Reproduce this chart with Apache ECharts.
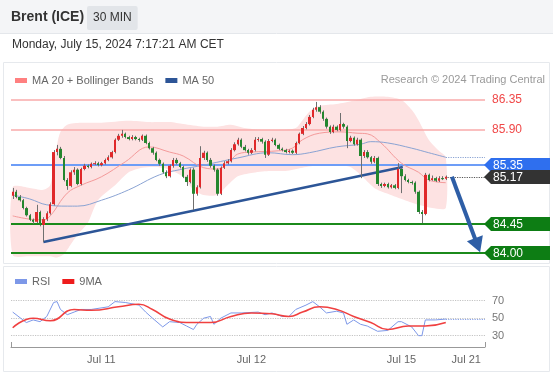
<!DOCTYPE html>
<html><head><meta charset="utf-8">
<script src="https://cdn.jsdelivr.net/npm/echarts@6/dist/echarts.min.js"></script>
<style>html,body{margin:0;padding:0;background:#fff}#c{width:553px;height:375px}</style>
</head><body><div id="c"></div>
<script>
// ---------- DATA ----------
const opens = [84.88,84.94,84.86,84.81,84.69,84.58,84.51,84.48,84.63,84.43,
84.52,84.61,84.75,85.55,85.60,85.46,85.12,85.03,85.24,85.28,
85.06,85.29,85.34,85.32,85.37,85.38,85.35,85.38,85.43,85.47,
85.55,85.74,85.80,85.83,85.78,85.75,85.78,85.75,85.74,85.80,
85.69,85.61,85.54,85.43,85.37,85.24,85.18,85.34,85.43,85.38,
85.32,85.17,85.09,85.28,84.91,85.01,85.46,85.54,85.43,85.34,
85.28,84.91,85.31,85.38,85.41,85.58,85.67,85.74,85.63,85.58,
85.54,85.58,85.74,85.75,85.71,85.51,85.72,85.74,85.66,85.60,
85.58,85.55,85.57,85.54,85.69,85.83,85.92,85.98,86.09,86.20,
86.24,86.17,86.06,85.94,85.86,85.94,85.89,85.98,85.94,85.72,
85.77,85.67,85.74,85.49,85.55,85.47,85.40,85.46,85.06,85.03,
85.06,85.01,85.04,85.00,85.29,85.18,85.12,85.09,85.08,84.94,
84.63,84.60,85.20,85.12,85.15,85.11,85.15,85.14];
const closes = [84.94,84.86,84.81,84.69,84.58,84.51,84.48,84.63,84.43,84.52,
84.61,84.75,85.55,85.60,85.46,85.12,85.03,85.24,85.28,85.06,
85.29,85.34,85.32,85.37,85.38,85.35,85.38,85.43,85.47,85.55,
85.74,85.80,85.83,85.78,85.75,85.78,85.75,85.74,85.80,85.69,
85.61,85.54,85.43,85.37,85.24,85.18,85.34,85.43,85.38,85.32,
85.17,85.09,85.28,84.91,85.01,85.46,85.54,85.43,85.34,85.28,
84.91,85.31,85.38,85.41,85.58,85.67,85.74,85.63,85.58,85.54,
85.58,85.74,85.75,85.71,85.51,85.72,85.74,85.66,85.60,85.58,
85.55,85.57,85.54,85.69,85.83,85.92,85.98,86.09,86.20,86.24,
86.17,86.06,85.94,85.86,85.94,85.89,85.98,85.94,85.72,85.77,
85.67,85.74,85.49,85.55,85.47,85.40,85.46,85.06,85.03,85.06,
85.01,85.04,85.00,85.29,85.18,85.12,85.09,85.08,84.94,84.63,
84.60,85.20,85.12,85.15,85.11,85.15,85.14,85.17];
const lows = [84.83,84.84,84.79,84.67,84.56,84.49,84.45,84.46,84.41,84.17,
84.49,84.59,84.73,85.50,85.44,85.10,84.97,85.01,85.20,85.04,
85.04,85.27,85.30,85.30,85.35,85.33,85.33,85.36,85.41,85.45,
85.53,85.72,85.77,85.76,85.73,85.73,85.73,85.71,85.72,85.67,
85.59,85.51,85.41,85.34,85.22,85.15,85.16,85.31,85.36,85.30,
85.15,85.03,85.07,84.66,84.88,84.99,85.43,85.40,85.31,85.25,
84.88,84.89,85.29,85.36,85.39,85.56,85.65,85.61,85.56,85.51,
85.52,85.56,85.71,85.68,85.46,85.49,85.70,85.64,85.58,85.56,
85.53,85.53,85.52,85.52,85.67,85.81,85.90,85.96,86.07,86.17,
86.14,86.03,85.91,85.83,85.84,85.87,85.87,85.91,85.61,85.70,
85.65,85.65,85.15,85.46,85.45,85.37,85.38,85.03,85.00,85.01,
84.99,84.99,84.98,84.98,84.92,85.10,85.07,85.05,84.91,84.60,
84.46,84.58,85.10,85.11,85.09,85.09,85.12,85.12];
const highs = [85.00,84.97,84.89,84.83,84.71,84.60,84.53,84.74,84.65,84.55,
84.64,84.78,85.58,85.66,85.63,85.49,85.15,85.27,85.32,85.30,
85.31,85.37,85.36,85.39,85.41,85.40,85.40,85.45,85.50,85.57,
85.76,85.83,85.89,85.85,85.80,85.81,85.80,85.77,85.82,85.82,
85.71,85.63,85.56,85.45,85.39,85.27,85.36,85.46,85.46,85.40,
85.34,85.20,85.30,85.31,85.04,85.64,85.57,85.56,85.46,85.36,
85.30,85.33,85.41,85.44,85.61,85.70,85.77,85.76,85.66,85.60,
85.61,85.78,85.78,85.77,85.73,85.75,85.77,85.76,85.68,85.62,
85.60,85.59,85.59,85.71,85.85,85.95,86.01,86.12,86.23,86.32,
86.27,86.19,86.08,85.96,85.97,85.96,86.15,86.00,85.96,85.80,
85.79,85.77,85.76,85.58,85.58,85.49,85.49,85.48,85.08,85.08,
85.08,85.06,85.06,85.38,85.31,85.21,85.14,85.11,85.10,84.96,
84.66,85.23,85.22,85.19,85.17,85.18,85.18,85.19];

// Bollinger bands / moving averages: [bar index, price]
const bbUpper = [[0,85.01],[5,85.00],[9,84.97],[11,85.04],[12,85.35],[13,85.66],[14,85.86],[16,85.97],[20,86.00],[26,86.00],[34,86.03],[40,86.01],[46,86.01],[50,85.98],[56,85.94],[60,85.94],[64,85.97],[68,85.92],[73,85.89],[78,85.89],[83,85.92],[85,86.04],[87,86.17],[90,86.26],[95,86.29],[100,86.34],[105,86.40],[110,86.40],[114,86.35],[117,86.20],[119,86.04],[122,85.74],[125,85.57],[127,85.47]];
const bbLower = [[0,83.97],[5,83.95],[9,83.95],[11,83.95],[13,83.93],[15,83.98],[17,84.13],[19,84.28],[22,84.46],[25,84.81],[30,85.04],[34,85.24],[38,85.31],[42,85.32],[46,85.28],[50,85.17],[53,84.97],[56,84.89],[60,84.89],[63,85.04],[66,85.18],[70,85.23],[75,85.26],[80,85.26],[85,85.31],[90,85.35],[95,85.35],[99,85.32],[102,85.20],[106,85.00],[110,84.91],[115,84.81],[119,84.74],[123,84.69],[127,84.69]];
const ma20 = [[0,84.57],[5,84.52],[9,84.51],[11,84.57],[16,84.92],[20,85.04],[26,85.17],[33,85.40],[40,85.63],[46,85.55],[50,85.49],[56,85.31],[60,85.29],[64,85.43],[66,85.52],[70,85.55],[78,85.57],[82,85.61],[85,85.74],[90,85.84],[96,85.86],[101,85.84],[104,85.83],[108,85.69],[114,85.38],[119,85.24],[122,85.12],[127,85.08]];
const ma50 = [[0,84.89],[5,84.83],[10,84.74],[16,84.72],[19,84.72],[26,84.81],[34,84.97],[43,85.20],[49,85.28],[56,85.35],[66,85.46],[75,85.54],[82,85.51],[87,85.54],[95,85.63],[102,85.67],[105,85.71],[110,85.69],[117,85.61],[122,85.54],[127,85.47]];
const trendPts = [[9,84.17],[114.4,85.32]];
const arrowPts = [[128.8,85.17],[136.3,84.12]];
const redLevels = [86.35, 85.90];
const tagLevels = [85.35, 85.17, 84.45, 84.00];
const rsi = [[0,57],[4,45],[6,48],[8,46],[10,52],[12,68],[13,69],[14,60],[16,54],[18,57],[20,60],[23,60],[28,63],[30,69],[33,68],[37,65],[39,57],[41,50],[44,40],[46,46],[49,45],[51,41],[53,37],[54,43],[56,50],[58,52],[59,43],[61,50],[64,56],[67,56],[72,57],[74,54],[76,56],[79,52],[81,52],[83,60],[86,65],[88,69],[90,63],[92,56],[95,58],[97,56],[98,43],[100,48],[102,43],[104,41],[107,35],[110,36],[113,46],[114,46],[117,40],[119,30],[120,30],[121,48],[124,48],[127,49]];
const rsiMa = [[0,39],[6,50],[11,47],[18,60],[23,59],[31,63],[37,66],[41,60],[46,49],[52,45],[58,45],[64,52],[70,56],[76,55],[81,52],[85,57],[90,63],[95,60],[100,52],[105,45],[110,37],[116,41],[121,41],[127,45]];
const rsiLevels = [70, 50, 30];
const xLabels = ['Jul 11','Jul 12','Jul 15','Jul 21'];
const xLabelIdx = [26, 70, 114, 133];
const N_SLOTS = 139;

// ---------- CHART ----------
const FONT = '"Liberation Sans", Arial, sans-serif';
const candles = opens.map((o, i) => [i, o, closes[i], lows[i], highs[i]]);
const tagColors = ['#2f6fee', '#333333', '#0d7d14', '#0d7d14'];
const lastIdx = closes.length - 1;

const chart = echarts.init(document.getElementById('c'), null, {renderer: 'canvas'});
chart.setOption({
  animation: false,
  textStyle: {fontFamily: FONT},
  title: [
    {text: 'Brent (ICE)', left: 11, top: 10, padding: 0, textStyle: {fontSize: 14, fontWeight: 'bold', color: '#333', fontFamily: FONT}},
    {text: 'Monday, July 15, 2024 7:17:21 AM CET', left: 12, top: 39, padding: 0, textStyle: {fontSize: 12, fontWeight: 'normal', color: '#333', fontFamily: FONT}},
    {text: 'Research © 2024 Trading Central', right: 8, top: 74, padding: 0, textStyle: {fontSize: 11, fontWeight: 'normal', color: '#9a9a9a', fontFamily: FONT}}
  ],
  graphic: [
    {type: 'rect', z: -10, shape: {x: 0, y: 0, width: 553, height: 33}, style: {fill: '#f4f5f7'}},
    {type: 'line', z: -10, shape: {x1: 0, y1: 33.5, x2: 553, y2: 33.5}, style: {stroke: '#e4e7eb'}},
    {type: 'rect', z: -10, shape: {x: 3.5, y: 62.5, width: 546, height: 201}, style: {fill: 'none', stroke: '#e6e9ed'}},
    {type: 'rect', z: -10, shape: {x: 3.5, y: 266.5, width: 546, height: 105}, style: {fill: 'none', stroke: '#e6e9ed'}},
    {type: 'text', left: 87, top: 6, style: {text: '30 MIN', fill: '#333', font: '12px ' + FONT, backgroundColor: '#e2e5e9', padding: [6, 6], borderRadius: 2}}
  ],
  legend: [
    {left: 10, top: 70, icon: 'rect', itemWidth: 12, itemHeight: 5, itemGap: 12, selectedMode: false,
     textStyle: {color: '#666', fontSize: 11, fontFamily: FONT},
     data: [{name: 'MA 20 + Bollinger Bands', itemStyle: {color: '#ff8080'}}, {name: 'MA 50', itemStyle: {color: '#2d5597'}}]},
    {left: 10, top: 271, icon: 'rect', itemWidth: 12, itemHeight: 5, itemGap: 12, selectedMode: false,
     textStyle: {color: '#666', fontSize: 11, fontFamily: FONT},
     data: [{name: 'RSI', itemStyle: {color: '#7d98e8'}}, {name: '9MA', itemStyle: {color: '#ee1c1c'}}]}
  ],
  grid: [
    {left: 11, right: 68, top: 88, height: 174},
    {left: 11, right: 68, top: 292, height: 55}
  ],
  xAxis: [
    {type: 'value', gridIndex: 0, min: -0.5, max: N_SLOTS - 0.5, show: false},
    {type: 'value', gridIndex: 1, min: -0.5, max: N_SLOTS - 0.5,
     axisLine: {show: true, lineStyle: {color: '#999'}},
     axisTick: {show: true, inside: true, length: 5, customValues: [-0.5, N_SLOTS - 0.5], lineStyle: {color: '#999'}},
     axisLabel: {show: true, customValues: xLabelIdx, color: '#666', fontSize: 11, margin: 7,
       formatter: v => xLabels[xLabelIdx.indexOf(v)] || ''},
     splitLine: {show: false}}
  ],
  yAxis: [
    {type: 'value', gridIndex: 0, min: 83.862, max: 86.534, show: false},
    {type: 'value', gridIndex: 1, min: 17, max: 80, show: false}
  ],
  series: [
    {
      type: 'custom', name: 'bands', xAxisIndex: 0, yAxisIndex: 0, z: 1, silent: true,
      data: [[0, 85]],
      renderItem: function (params, api) {
        const pts = bbUpper.map(d => api.coord(d)).concat(bbLower.slice().reverse().map(d => api.coord(d)));
        return {type: 'polygon', shape: {points: pts, smooth: 0.25}, style: {fill: '#fde2e2'}};
      }
    },
    {
      type: 'line', name: 'MA 20 + Bollinger Bands', xAxisIndex: 0, yAxisIndex: 0, z: 3, data: ma20,
      symbol: 'none', smooth: 0.4, lineStyle: {color: '#f49a9a', width: 1}, itemStyle: {color: '#ff8080'}
    },
    {
      type: 'line', name: 'MA 50', xAxisIndex: 0, yAxisIndex: 0, z: 3, data: ma50,
      symbol: 'none', smooth: 0.4, lineStyle: {color: '#8aa3d3', width: 1}, itemStyle: {color: '#2d5597'},
      markLine: {silent: true, symbol: ['none', 'none'], label: {show: false},
        data: [[{coord: [lastIdx, ma50[ma50.length - 1][1]]}, {coord: [N_SLOTS - 0.5, ma50[ma50.length - 1][1]]}]],
        lineStyle: {color: '#8aa3d3', type: 'dotted', width: 1.2}}
    },
    {
      type: 'line', name: 'trend', xAxisIndex: 0, yAxisIndex: 0, z: 4, data: trendPts,
      symbol: 'none', lineStyle: {color: '#2c5597', width: 2.5},
      markLine: {silent: true, symbol: ['none', 'none'], z: 2,
        data: [
          ...redLevels.map(v => ({yAxis: v, lineStyle: {color: '#f9aaaa', width: 1.5, type: 'solid'},
            label: {show: true, position: 'end', distance: 7, color: '#f04848', fontSize: 12, fontFamily: FONT, formatter: p => p.value.toFixed(2)}})),
          {yAxis: tagLevels[0], lineStyle: {color: '#6d9df7', width: 2, type: 'solid'}, label: {show: false}},
          {yAxis: tagLevels[2], lineStyle: {color: '#1b8a1b', width: 2, type: 'solid'}, label: {show: false}},
          {yAxis: tagLevels[3], lineStyle: {color: '#1b8a1b', width: 2, type: 'solid'}, label: {show: false}},
          [{coord: [lastIdx + 0.5, tagLevels[1]], lineStyle: {color: '#555', type: 'dotted', width: 1.2}, label: {show: false}},
           {coord: [N_SLOTS - 0.5, tagLevels[1]]}]
        ]}
    },
    {
      type: 'custom', name: 'candles', xAxisIndex: 0, yAxisIndex: 0, z: 5, data: candles,
      renderItem: function (params, api) {
        const i = api.value(0), o = api.value(1), c = api.value(2), l = api.value(3), h = api.value(4);
        const pO = api.coord([i, o]), pC = api.coord([i, c]), pL = api.coord([i, l]), pH = api.coord([i, h]);
        const x = pO[0];
        const xl = Math.round(x - 1.2), xr = Math.round(x + 1.2);
        const xw = Math.round(x) + 0.5;
        const top = Math.min(pO[1], pC[1]), bot = Math.max(pO[1], pC[1]);
        const up = c >= o;
        return {type: 'group', children: [
          {type: 'line', shape: {x1: xw, y1: pH[1], x2: xw, y2: pL[1]}, style: {stroke: '#6f6f6f', lineWidth: 1}},
          {type: 'rect', shape: {x: xl, y: top, width: Math.max(2, xr - xl), height: Math.max(1, bot - top)},
           style: {fill: up ? '#e0282a' : '#24862e'}}
        ]};
      }
    },
    {
      type: 'line', name: 'arrow', xAxisIndex: 0, yAxisIndex: 0, z: 6, data: [],
      markLine: {silent: true, symbol: ['none', 'triangle'], symbolSize: [17, 15], label: {show: false},
        lineStyle: {color: '#2e5ea6', width: 4, type: 'solid'},
        data: [[{coord: arrowPts[0]}, {coord: arrowPts[1]}]]}
    },
    {
      type: 'custom', name: 'tags', xAxisIndex: 0, yAxisIndex: 0, z: 7,
      data: tagLevels.map(v => [N_SLOTS - 0.5, v]),
      renderItem: function (params, api) {
        const p = api.coord([api.value(0), api.value(1)]);
        const x = p[0] - 1, y = Math.round(p[1]), h = 7;
        return {type: 'group', children: [
          {type: 'polygon', shape: {points: [[x, y], [x + 7, y - h], [550, y - h], [550, y + h], [x + 7, y + h]]},
           style: {fill: tagColors[params.dataIndex]}},
          {type: 'text', style: {text: api.value(1).toFixed(2), x: x + 9, y: y + 0.5, verticalAlign: 'middle',
            fill: '#fff', font: '12px ' + FONT}}
        ]};
      }
    },
    {
      type: 'line', name: 'RSI', xAxisIndex: 1, yAxisIndex: 1, data: rsi, symbol: 'none',
      lineStyle: {color: '#7d98e8', width: 1}, itemStyle: {color: '#7d98e8'}, z: 3,
      markLine: {silent: true, symbol: ['none', 'none'], z: 1,
        lineStyle: {color: '#c4c4c4', type: 'dotted', width: 1.2},
        label: {show: true, position: 'end', distance: 7, color: '#777', fontSize: 11, fontFamily: FONT},
        data: [
          ...rsiLevels.map(v => ({yAxis: v})),
          [{coord: [lastIdx, rsi[rsi.length - 1][1]], lineStyle: {color: '#8aa3e8', type: 'dotted', width: 1.2}, label: {show: false}},
           {coord: [N_SLOTS - 0.5, rsi[rsi.length - 1][1]]}]
        ]}
    },
    {
      type: 'line', name: '9MA', xAxisIndex: 1, yAxisIndex: 1, data: rsiMa, symbol: 'none', smooth: 0.5,
      lineStyle: {color: '#f04040', width: 1.5}, itemStyle: {color: '#ee1c1c'}, z: 4
    }
  ]
});
</script>
</body></html>
